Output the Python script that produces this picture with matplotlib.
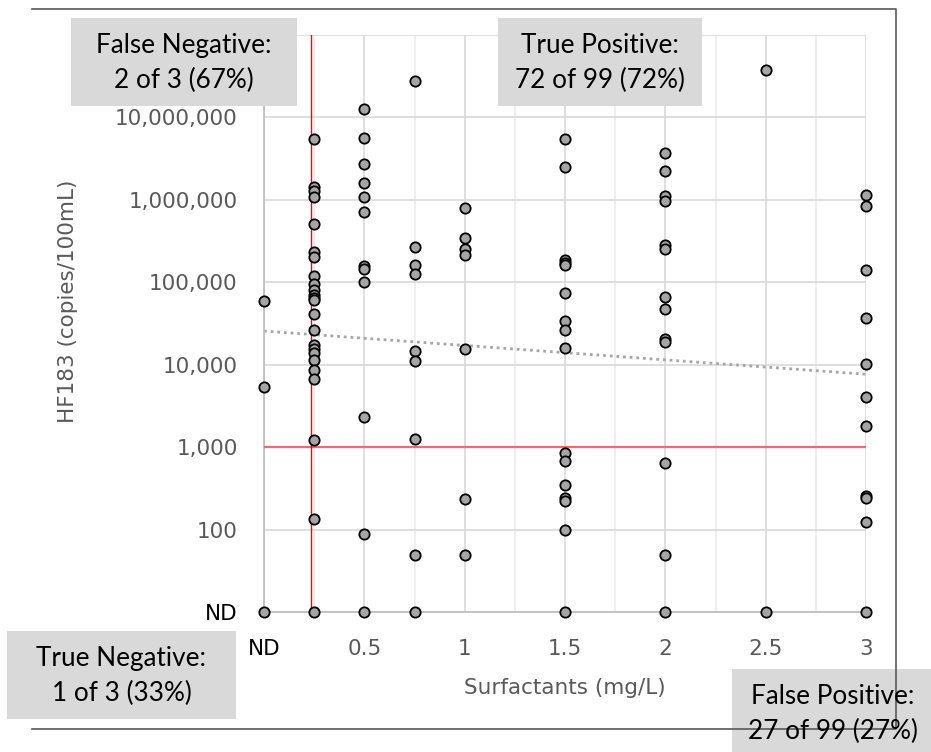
import matplotlib
matplotlib.use('Agg')
import matplotlib.pyplot as plt
from matplotlib.patches import Rectangle
from matplotlib.ticker import NullLocator
import numpy as np

ND = 10  # non-detects are drawn on the bottom row

# HF183 (copies/100mL) per surfactant level (mg/L); surfactant ND plotted at 0
surf_nd = [59000, 5400, ND]
surf_025 = [5480000, 1440000, 1290000, 1100000, 508000, 237000, 204000,
            120000, 95000, 80000, 70000, 65000, 62000, 41800, 26400, 17300,
            15400, 13800, 11400, 8630, 6780, 1240, 136, ND]
surf_05 = [12600000, 5580000, 2720000, 1600000, 1080000, 724000, 158000,
           147000, 101000, 2340, 88, ND]
surf_075 = [28000000, 269000, 161000, 128000, 14700, 11100, 1265, 50, ND]
surf_1 = [790000, 341000, 252000, 213000, 15800, 238, 50]
surf_15 = [5430000, 2480000, 187000, 174000, 163000, 73800, 34000, 26400,
           16100, 855, 689, 345, 243, 221, 100, ND]
surf_2 = [3730000, 2240000, 1120000, 960000, 284000, 252000, 67100, 48000,
          20700, 18900, 646, 50, ND]
surf_25 = [37800000, ND]
surf_3 = [1140000, 834000, 140000, 36600, 10300, 4090, 1840, 254, 245, 124, ND]

surf_levels = [0, 0.25, 0.5, 0.75, 1, 1.5, 2, 2.5, 3]
hf183_by_level = [surf_nd, surf_025, surf_05, surf_075, surf_1, surf_15,
                  surf_2, surf_25, surf_3]

# exponential trendline (read at both ends) and thresholds
trend_x = [0, 3]
trend_y = [25700, 7700]
hf183_threshold = 1000
surf_threshold = 0.236

y_ticks = [10, 1e2, 1e3, 1e4, 1e5, 1e6, 1e7, 1e8]
y_labels = ['ND', '100', '1,000', '10,000', '100,000', '1,000,000',
            '10,000,000', '']
x_ticks = [0, 0.5, 1, 1.5, 2, 2.5, 3]
x_labels = ['ND', '0.5', '1', '1.5', '2', '2.5', '3']

boxes = [
    ('False Negative:\n2 of 3 (67%)', 71, 18, 226, 88),
    ('True Positive:\n72 of 99 (72%)', 498, 18, 204, 88),
    ('True Negative:\n1 of 3 (33%)', 7, 631, 229, 88),
    ('False Positive:\n27 of 99 (27%)', 732, 669, 202, 88),
]

W, H = 931, 752
fig = plt.figure(figsize=(W / 100, H / 100), dpi=100)
ax = fig.add_axes([264 / W, 1 - 612.3 / H, (866 - 264) / W, (612.3 - 35) / H])

x = np.concatenate([[lvl] * len(v) for lvl, v in zip(surf_levels, hf183_by_level)])
y = np.concatenate(hf183_by_level)

ax.set_yscale('log')
ax.set_ylim(10, 1e8)
ax.set_xlim(0, 3)

ax.plot(trend_x, trend_y, color='#a6a6a6', lw=2, ls=(0, (1, 1.4)), zorder=2)
ax.axhline(hf183_threshold, color='#f46a6a', lw=1.6, zorder=3)
ax.axvline(surf_threshold, color='#ff0000', lw=1.0, zorder=3)
ax.scatter(x, y, s=55, facecolor='#a5a5a5', edgecolor='black',
           linewidth=1.3, zorder=4, clip_on=False)

ax.set_yticks(y_ticks, y_labels)
ax.set_xticks(x_ticks, x_labels)
ax.yaxis.set_minor_locator(NullLocator())
ax.set_xticks(np.arange(0.25, 3, 0.5), minor=True)
ax.tick_params(which='both', length=0)
ax.tick_params(axis='y', pad=19, labelsize=15.5, labelcolor='#595959')
ax.tick_params(axis='x', pad=19, labelsize=15.5, labelcolor='#595959')
for lbl in ax.get_yticklabels() + ax.get_xticklabels():
    if lbl.get_text() == 'ND':
        lbl.set_color('black')

ax.grid(which='major', color='#d9d9d9', lw=1.2, zorder=0)
ax.grid(which='minor', axis='x', color='#ececec', lw=1.2, zorder=0)
ax.set_axisbelow(True)
for side in ['top', 'right']:
    ax.spines[side].set_visible(False)
for side in ['left', 'bottom']:
    ax.spines[side].set_color('#bfbfbf')
    ax.spines[side].set_linewidth(1.3)

fig.text(565 / W, 1 - 688 / H, 'Surfactants (mg/L)', ha='center', va='center',
         fontsize=15.5, color='#595959')
fig.text(68.5 / W, 1 - 301 / H, 'HF183 (copies/100mL)', ha='center',
         va='center', rotation=90, fontsize=15.5, color='#595959')

# overlay in pixel coordinates for the frame and the count boxes
ov = fig.add_axes([0, 0, 1, 1], zorder=10)
ov.set_xlim(0, W)
ov.set_ylim(H, 0)
ov.axis('off')
ov.plot([32, 896, 896, 32], [9, 9, 729, 729], color='#595959', lw=1.2)
for txt, bx, by, bw, bh in boxes:
    ov.add_patch(Rectangle((bx, by), bw, bh, facecolor='#d9d9d9',
                           edgecolor='none', clip_on=False))
    ov.text(bx + bw / 2, by + 45, txt, ha='center', va='center',
            fontsize=18.8, family='Lato', linespacing=1.48, color='black')

fig.savefig('out.png', dpi=100)
